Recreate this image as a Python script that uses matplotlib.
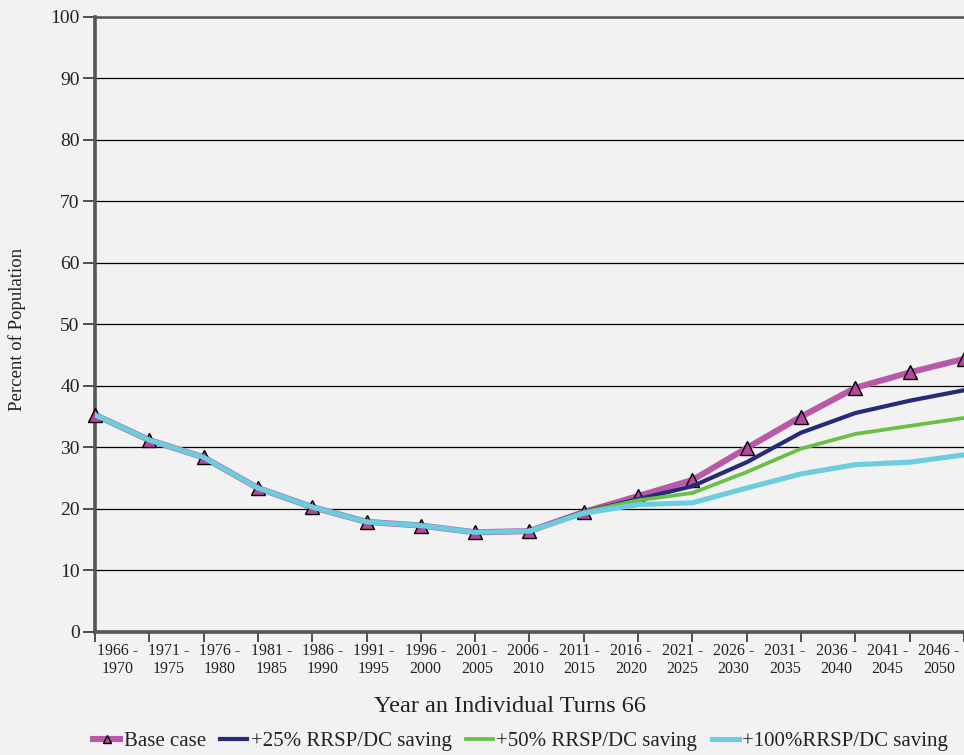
import matplotlib
matplotlib.use("Agg")
import matplotlib.pyplot as plt
import numpy as np

# period labels, one per data point
periods = ["1966 -\n1970", "1971 -\n1975", "1976 -\n1980", "1981 -\n1985",
           "1986 -\n1990", "1991 -\n1995", "1996 -\n2000", "2001 -\n2005",
           "2006 -\n2010", "2011 -\n2015", "2016 -\n2020", "2021 -\n2025",
           "2026 -\n2030", "2031 -\n2035", "2036 -\n2040", "2041 -\n2045",
           "2046 -\n2050"]

base_case = [35.3, 31.2, 28.4, 23.4, 20.3, 17.9, 17.3, 16.2, 16.4, 19.5,
             22.1, 24.7, 29.9, 35.0, 39.7, 42.2, 44.4]
rrsp_25 = [35.3, 31.2, 28.4, 23.4, 20.3, 17.9, 17.3, 16.2, 16.4, 19.5,
           21.6, 23.7, 27.6, 32.4, 35.6, 37.6, 39.3]
rrsp_50 = [35.3, 31.2, 28.4, 23.4, 20.3, 17.9, 17.3, 16.2, 16.4, 19.5,
           21.4, 22.6, 26.0, 29.8, 32.2, 33.5, 34.8]
rrsp_100 = [35.3, 31.2, 28.4, 23.4, 20.3, 17.9, 17.3, 16.2, 16.4, 19.3,
            20.7, 21.0, 23.4, 25.7, 27.2, 27.6, 28.8]

bg = "#f2f2f2"
txt = "#222222"
plt.rcParams["font.family"] = ["Liberation Serif", "DejaVu Serif"]

fig = plt.figure(figsize=(9.64, 7.55), dpi=100, facecolor=bg)
ax = fig.add_axes([0.0985, 0.163, 0.9015, 0.8145], facecolor=bg)

x = np.arange(len(base_case))
ax.plot(x, base_case, color="#b95aa8", lw=4.4, marker="^", ms=10,
        mfc="#b24a9c", mec="black", mew=1.0, label="Base case", clip_on=False, zorder=3)
ax.plot(x, rrsp_25, color="#262a78", lw=3.0, label="+25% RRSP/DC saving", zorder=4)
ax.plot(x, rrsp_50, color="#6abf45", lw=2.7, label="+50% RRSP/DC saving", zorder=5)
ax.plot(x, rrsp_100, color="#6dcde0", lw=3.7, label="+100%RRSP/DC saving", zorder=6)

ax.set_xlim(0, 16)
ax.set_ylim(0, 100)
ax.set_yticks(range(0, 101, 10))
ax.yaxis.grid(True, color="black", lw=0.9)
ax.set_axisbelow(True)
ax.tick_params(axis="y", length=9, width=1.2, color="#333333", labelsize=14,
               labelcolor=txt, pad=2)

# tick marks on every point; the labels are spread evenly on a slightly tighter pitch
ax.xaxis.remove_overlapping_locs = False
label_pos = np.linspace(0.41, 15.54, len(periods))
ax.set_xticks(label_pos)
ax.set_xticklabels(periods, fontsize=11.5, color=txt, linespacing=1.2)
ax.tick_params(axis="x", which="major", length=0, pad=8)
ax.set_xticks(range(0, 17), minor=True)
ax.tick_params(axis="x", which="minor", length=7, width=1.2, color="#333333")

for side in ["left", "bottom"]:
    ax.spines[side].set_linewidth(2.6)
    ax.spines[side].set_color("#555555")
ax.spines["top"].set_linewidth(1.8)
ax.spines["top"].set_color("#555555")
ax.spines["right"].set_visible(False)

fig.text(0.529, 0.0636, "Year an Individual Turns 66", fontsize=17.5, color=txt,
         ha="center", va="center")
fig.text(0.0176, 0.563, "Percent of Population", fontsize=13.5, color=txt,
         ha="center", va="center", rotation=90)

fig.legend(loc="center", bbox_to_anchor=(0.54, 0.0185), ncol=4, frameon=False,
           fontsize=15, handlelength=1.3, handletextpad=0.15, columnspacing=0.7,
           markerscale=0.6, labelcolor=txt)

fig.savefig("out.png", dpi=100, facecolor=bg)
